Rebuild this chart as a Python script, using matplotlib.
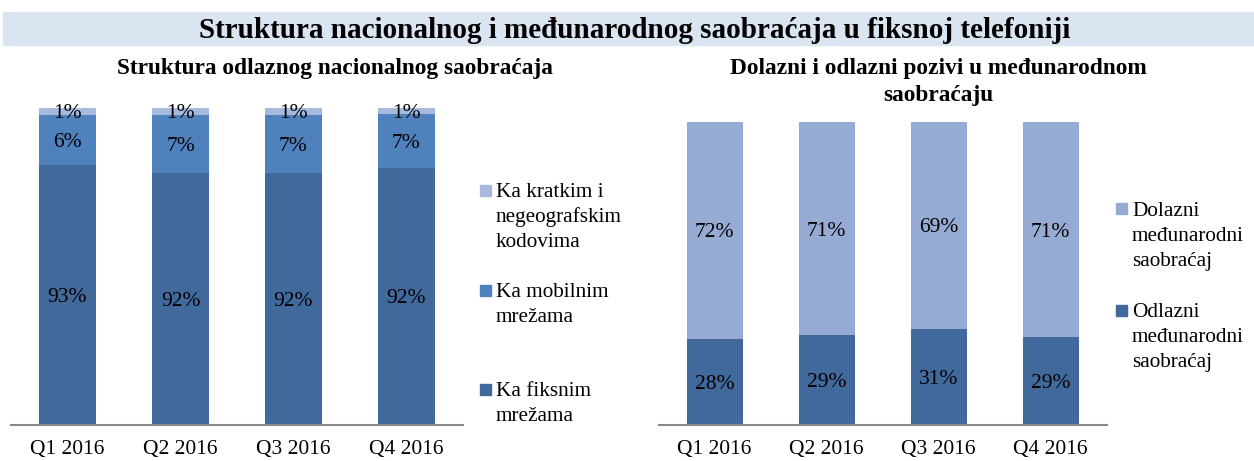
import matplotlib.pyplot as plt
from matplotlib.patches import Rectangle

plt.rcParams['font.family'] = ['Liberation Serif', 'DejaVu Serif']

# Podaci
kvartali = ['Q1 2016', 'Q2 2016', 'Q3 2016', 'Q4 2016']

# Lijevi grafik - odlazni nacionalni saobraćaj (udjeli)
fiksne = [0.928, 0.918, 0.917, 0.924]
mobilne = [0.062, 0.072, 0.073, 0.068]
kratki = [0.010, 0.010, 0.010, 0.008]
fiksne_lbl = ['93%', '92%', '92%', '92%']
mobilne_lbl = ['6%', '7%', '7%', '7%']
kratki_lbl = ['1%', '1%', '1%', '1%']

# Desni grafik - međunarodni saobraćaj
odlazni = [0.284, 0.297, 0.317, 0.290]
dolazni = [0.716, 0.703, 0.683, 0.710]
odlazni_lbl = ['28%', '29%', '31%', '29%']
dolazni_lbl = ['72%', '71%', '69%', '71%']

c_fiks = '#41699c'
c_mob = '#4f81bd'
c_krat = '#a7b9dc'
c_dol = '#95abd3'

W, H = 1254, 461
fig = plt.figure(figsize=(W / 100, H / 100), dpi=100)

# traka s naslovom
fig.patches.append(Rectangle((3 / W, 1 - 45 / H), 1 - 3 / W, 33 / H,
                             transform=fig.transFigure, color='#dbe5f1', zorder=0))
fig.text(635 / W, 1 - 30 / H, 'Struktura nacionalnog i međunarodnog saobraćaja u fiksnoj telefoniji',
         ha='center', va='center', fontsize=21, fontweight='bold')


def make_ax(x0, x1, ytop, ybot=425):
    return fig.add_axes([x0 / W, 1 - ybot / H, (x1 - x0) / W, (ybot - ytop) / H])


def style_ax(ax):
    for s in ['top', 'right', 'left']:
        ax.spines[s].set_visible(False)
    ax.spines['bottom'].set_color('#898989')
    ax.spines['bottom'].set_linewidth(1.5)
    ax.set_yticks([])
    ax.set_xticks(range(len(kvartali)))
    ax.set_xticklabels(kvartali, fontsize=15.5)
    ax.tick_params(axis='x', length=0, pad=11)
    ax.set_xlim(-0.5, 3.5)


def stacked(ax, series, colors, labels, ymin):
    x = list(range(len(kvartali)))
    bottom = [0] * len(kvartali)
    for vals, col, lbls in zip(series, colors, labels):
        ax.bar(x, vals, 0.5, bottom=bottom, color=col, edgecolor='none')
        for i, v in enumerate(vals):
            lo = max(bottom[i], ymin)
            top = bottom[i] + v
            ax.text(i, (lo + top) / 2, lbls[i], ha='center', va='center_baseline', fontsize=15.5)
        bottom = [b + v for b, v in zip(bottom, vals)]


# lijevi
ax1 = make_ax(11, 463, 107.5)
style_ax(ax1)
stacked(ax1, [fiksne, mobilne, kratki], [c_fiks, c_mob, c_krat],
        [fiksne_lbl, mobilne_lbl, kratki_lbl], 0.6)
ax1.set_ylim(0.6, 1.0)
fig.text(335 / W, 1 - 68 / H, 'Struktura odlaznog nacionalnog saobraćaja',
         ha='center', va='center', fontsize=16.8, fontweight='bold')

# desni
ax2 = make_ax(658.5, 1106.5, 122)
style_ax(ax2)
stacked(ax2, [odlazni, dolazni], [c_fiks, c_dol],
        [odlazni_lbl, dolazni_lbl], 0.0)
ax2.set_ylim(0, 1.0)
fig.text(938 / W, 1 - 68 / H, 'Dolazni i odlazni pozivi u međunarodnom',
         ha='center', va='center', fontsize=16.8, fontweight='bold')
fig.text(938 / W, 1 - 96 / H, 'saobraćaju',
         ha='center', va='center', fontsize=16.8, fontweight='bold')


# legende
def legend_entry(xs, yc, lines, col):
    fig.patches.append(Rectangle((xs / W, 1 - (yc + 5.5) / H), 11 / W, 11 / H,
                                 transform=fig.transFigure, color=col))
    for k, line in enumerate(lines):
        fig.text((xs + 16) / W, 1 - (yc + 7 + 25 * k) / H, line, ha='left',
                 va='baseline', fontsize=15.3)


legend_entry(480, 190, ['Ka kratkim i', 'negeografskim', 'kodovima'], c_krat)
legend_entry(480, 290, ['Ka mobilnim', 'mrežama'], c_mob)
legend_entry(480, 389, ['Ka fiksnim', 'mrežama'], c_fiks)

legend_entry(1116, 209, ['Dolazni', 'međunarodni', 'saobraćaj'], c_dol)
legend_entry(1116, 310, ['Odlazni', 'međunarodni', 'saobraćaj'], c_fiks)

fig.savefig('out.png', dpi=100)
